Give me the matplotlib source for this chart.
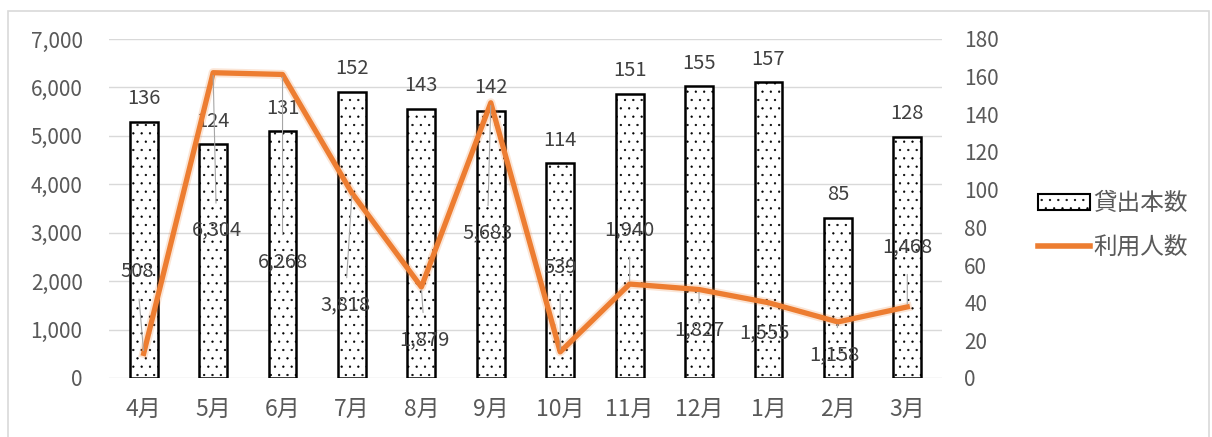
import matplotlib
matplotlib.use("Agg")
import matplotlib.pyplot as plt
from matplotlib.patches import Rectangle, Patch
from matplotlib.lines import Line2D

plt.rcParams['font.family'] = ['Noto Sans CJK JP', 'DejaVu Sans']
plt.rcParams['hatch.linewidth'] = 0.4
plt.rcParams['hatch.color'] = '#222222'

months = ['4月', '5月', '6月', '7月', '8月', '9月', '10月', '11月', '12月', '1月', '2月', '3月']
loans = [136, 124, 131, 152, 143, 142, 114, 151, 155, 157, 85, 128]        # 貸出本数 (right axis)
users = [508, 6304, 6268, 3818, 1879, 5683, 539, 1940, 1827, 1555, 1158, 1468]  # 利用人数 (left axis)
# where each 利用人数 label sits, in left-axis units
user_label_y = [2190, 3050, 2400, 1510, 790, 3000, 2290, 3060, 990, 930, 480, 2700]
user_label_dx = [-0.1, 0.05, 0.0, -0.1, 0.05, -0.05, 0.0, 0.0, 0.0, -0.05, -0.05, 0.0]

grey = '#595959'
orange = '#ED7D31'

fig = plt.figure(figsize=(12.12, 4.37), dpi=100)
fig.patches.append(Rectangle((8 / 1212, -0.1), (1209 - 8) / 1212, 1.1 - 11 / 437,
                             transform=fig.transFigure, fill=False,
                             edgecolor='#d9d9d9', linewidth=1.2))

ax = fig.add_axes([109 / 1212, (437 - 378) / 437, (942 - 109) / 1212, (378 - 39) / 437])
ax2 = ax.twinx()

x = list(range(len(months)))

# bars on the secondary axis
ax2.bar(x, loans, width=0.4, facecolor='white', edgecolor='black', linewidth=1.8,
        hatch='..', zorder=2)
for xi, v in zip(x, loans):
    ax2.annotate(f'{v}', (xi, v), xytext=(0, 9), textcoords='offset points',
                 ha='center', va='bottom', fontsize=14.5, color='#404040')
ax2.set_ylim(0, 180)
ax2.set_yticks(range(0, 181, 20))

# line on the primary axis, drawn above the bars
ax.set_zorder(ax2.get_zorder() + 1)
ax.patch.set_visible(False)
ax.plot(x, users, color=orange, linewidth=6.5, alpha=0.2, zorder=3)
ax.plot(x, users, color=orange, linewidth=3.8, zorder=4)
for xi, v, ly, dx in zip(x, users, user_label_y, user_label_dx):
    ax.annotate(f'{v:,}', (xi, v), xytext=(xi + dx, ly), textcoords='data',
                ha='center', va='center', fontsize=14.5, color='#404040', zorder=5,
                arrowprops=dict(arrowstyle='-', color='#a6a6a6', lw=0.8,
                                shrinkA=10, shrinkB=2))
ax.set_ylim(0, 7000)
ax.set_yticks(range(0, 7001, 1000))
ax.set_yticklabels([f'{t:,}' for t in range(0, 7001, 1000)])
ax.set_xlim(-0.5, len(months) - 0.5)
ax.set_xticks(x)
ax.set_xticklabels(months)

# gridlines belong to the secondary axis so they stay behind the bars
for t in range(0, 7001, 1000):
    ax2.axhline(t / 7000 * 180, color='#d9d9d9', linewidth=1, zorder=0)

for a in (ax, ax2):
    for s in a.spines.values():
        s.set_visible(False)
    a.tick_params(length=0, colors=grey, labelsize=15)
ax.tick_params(axis='y', pad=19)
ax.tick_params(axis='x', pad=14, labelsize=16.5)
ax2.tick_params(axis='y', pad=16)

handles = [Patch(facecolor='white', edgecolor='black', hatch='..', linewidth=1.5),
           Line2D([], [], color=orange, linewidth=4)]
fig.legend(handles, ['貸出本数', '利用人数'], loc='center left',
           bbox_to_anchor=(1038 / 1212, 1 - 226 / 437), frameon=False,
           fontsize=17, labelcolor=grey, handlelength=2.2, handletextpad=0.15,
           labelspacing=0.9, borderpad=0, borderaxespad=0)

fig.savefig('out.png', dpi=100)
